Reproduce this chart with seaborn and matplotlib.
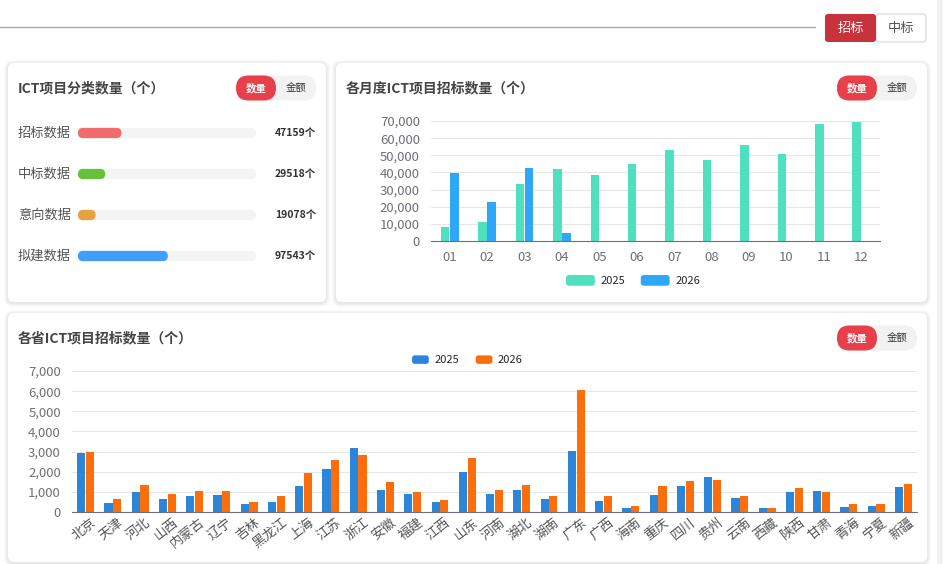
import numpy as np
import pandas as pd
import matplotlib
matplotlib.use("Agg")
import matplotlib.pyplot as plt
import matplotlib.ticker as mtick
import matplotlib.transforms as mtrans
from matplotlib.patches import FancyBboxPatch, Rectangle
from matplotlib.legend_handler import HandlerPatch
import seaborn as sns

W, H = 943, 564

# ---- data ----
cat_labels = ['招标数据', '中标数据', '意向数据', '拟建数据']
cat_values = [47159, 29518, 19078, 97543]
cat_colors = ['#f26b6b', '#67c23a', '#e6a23c', '#409eff']

months = ['01', '02', '03', '04', '05', '06', '07', '08', '09', '10', '11', '12']
month_2025 = [8400, 10900, 33200, 42000, 38500, 44700, 53300, 47200, 56000, 50900, 68200, 69600]
month_2026 = [39700, 22900, 42600, 4900, np.nan, np.nan, np.nan, np.nan, np.nan, np.nan, np.nan, np.nan]

provinces = ['北京', '天津', '河北', '山西', '内蒙古', '辽宁', '吉林', '黑龙江', '上海', '江苏',
             '浙江', '安徽', '福建', '江西', '山东', '河南', '湖北', '湖南', '广东', '广西',
             '海南', '重庆', '四川', '贵州', '云南', '西藏', '陕西', '甘肃', '青海', '宁夏', '新疆']
prov_2025 = [2910, 450, 980, 630, 815, 830, 380, 515, 1310, 2145,
             3175, 1115, 915, 500, 1980, 900, 1115, 650, 3010, 530,
             200, 865, 1280, 1750, 715, 200, 980, 1065, 265, 280, 1250]
prov_2026 = [2990, 665, 1350, 880, 1050, 1030, 480, 780, 1930, 2580,
             2810, 1500, 980, 600, 2660, 1080, 1330, 800, 6040, 815,
             300, 1300, 1560, 1600, 780, 180, 1180, 980, 380, 400, 1380]

sns.set_theme(style='white')
plt.rcParams['font.family'] = ['Noto Sans CJK SC', 'DejaVu Sans']

fig = plt.figure(figsize=(W / 100, H / 100), dpi=100)
fig.patch.set_facecolor('white')

# background axes in pixel coords (y downwards)
bg = fig.add_axes([0, 0, 1, 1])
bg.set_xlim(0, W)
bg.set_ylim(H, 0)
bg.axis('off')


def px_axes(x0, y0, x1, y1):
    ax = fig.add_axes([x0 / W, 1 - y1 / H, (x1 - x0) / W, (y1 - y0) / H])
    ax.patch.set_alpha(0)
    return ax


def rbox(x0, y0, x1, y1, r, **kw):
    p = FancyBboxPatch((x0, y0), x1 - x0, y1 - y0,
                       boxstyle=f"round,pad=0,rounding_size={r}", **kw)
    bg.add_patch(p)
    return p


def card(x0, y0, x1, y1):
    for i, a in enumerate([0.05, 0.05, 0.06, 0.07]):
        d = 4 - i
        rbox(x0 - d, y0 - d + 1, x1 + d, y1 + d + 1, 6 + d, fc='#9a9a9a', ec='none', alpha=a)
    rbox(x0, y0, x1, y1, 6, fc='white', ec='none')


def toggle(x0, yc):
    rbox(x0, yc - 12.5, x0 + 80, yc + 12.5, 12.5, fc='#f2f2f3', ec='none')
    rbox(x0, yc - 12.5, x0 + 40, yc + 12.5, 12.5, fc='#e8404a', ec='none')
    bg.text(x0 + 20, yc, '数量', ha='center', va='center', fontsize=7.5,
            color='white', fontweight='bold')
    bg.text(x0 + 60, yc, '金额', ha='center', va='center', fontsize=7.5, color='#333333')


def round_handle(legend, orig_handle, xdescent, ydescent, width, height, fontsize):
    return FancyBboxPatch((-xdescent, -ydescent), width, height,
                          boxstyle=f"round,pad=0,rounding_size={height * 0.3}")


# ---- page header ----
bg.plot([0, 815], [27, 27], color='#c9999d', lw=1)
rbox(876, 14, 926, 42, 3, fc='white', ec='#d6d6d6', lw=0.8)
rbox(825, 14, 876, 42, 3, fc='#c8323a', ec='none')
bg.text(850.5, 28, '招标', ha='center', va='center', fontsize=9.5, color='white')
bg.text(901, 28, '中标', ha='center', va='center', fontsize=9.5, color='#555555')
bg.add_patch(Rectangle((937, 0), 6, H, fc='#f1f1f1', ec='none'))

# ---- cards ----
card(8, 63, 326, 302)
card(336, 63, 927, 302)
card(8, 313, 927, 562)

title_kw = dict(ha='left', va='center', fontsize=10, fontweight='bold', color='#444444')
bg.text(18, 88, 'ICT项目分类数量（个）', **title_kw)
bg.text(346, 88, '各月度ICT项目招标数量（个）', **title_kw)
bg.text(18, 338, '各省ICT项目招标数量（个）', **title_kw)
toggle(236, 88)
toggle(837, 88)
toggle(837, 338)

# ---- category progress bars ----
total = sum(cat_values)
cat_df = pd.DataFrame({'label': cat_labels, 'value': cat_values, 'total': [total] * 4})
ax1 = px_axes(78, 112.5, 256, 276.5)
sns.barplot(data=cat_df, y='label', x='total', color='#f4f4f5', width=0.25, linewidth=0, ax=ax1)
sns.barplot(data=cat_df, y='label', x='value', hue='label', palette=cat_colors,
            width=0.25, legend=False, ax=ax1, saturation=1, linewidth=0)
ax1.set_xlim(0, total)
ax1.axis('off')
fig.canvas.draw()
to_px = ax1.transData + bg.transData.inverted()
for p in list(ax1.patches):
    x, y = p.get_xy()
    (ax_, ay_), (bx_, by_) = to_px.transform([(x, y), (x + p.get_width(), y + p.get_height())])
    lo, hi = min(ay_, by_), max(ay_, by_)
    r = min(5, (hi - lo) / 2, (bx_ - ax_) / 2)
    ax1.add_patch(FancyBboxPatch((ax_, lo), bx_ - ax_, hi - lo,
                                 boxstyle=f"round,pad=0,rounding_size={r}",
                                 fc=p.get_facecolor(), ec='none',
                                 transform=bg.transData, clip_on=False))
    p.set_visible(False)
row_tr = mtrans.blended_transform_factory(bg.transData, ax1.transData)
for i, (lab, val) in enumerate(zip(cat_labels, cat_values)):
    ax1.text(18, i, lab, transform=row_tr, ha='left', va='center', fontsize=9.5, color='#555555')
    ax1.text(316, i, f'{val}个', transform=row_tr, ha='right', va='center', fontsize=7.5,
             fontweight='bold', color='#333333')


def style_bar_axes(ax, n, ymax, step):
    ax.set_ylim(0, ymax)
    ax.set_xlim(-0.5, n - 0.5)
    ax.set_yticks(np.arange(0, ymax + 1, step))
    ax.yaxis.set_major_formatter(mtick.FuncFormatter(lambda v, _: f'{v:,.0f}'))
    ax.grid(axis='y', color='#e6e6e6', lw=0.8)
    ax.set_axisbelow(True)
    for s in ['left', 'right', 'top']:
        ax.spines[s].set_visible(False)
    ax.spines['bottom'].set_color('#6e7079')
    ax.spines['bottom'].set_linewidth(0.8)
    ax.set_xticks(np.arange(-0.5, n, 1), minor=True)
    ax.tick_params(axis='x', which='minor', length=4, color='#6e7079', width=0.8, direction='out')
    ax.tick_params(axis='x', which='major', length=0)
    ax.tick_params(axis='y', length=0, labelsize=9.5, labelcolor='#6e7079', pad=8)
    ax.set_xlabel('')
    ax.set_ylabel('')


# ---- monthly chart ----
mdf = pd.DataFrame({'month': months * 2,
                    'year': ['2025'] * 12 + ['2026'] * 12,
                    'value': month_2025 + month_2026})
ax2 = px_axes(431, 121, 880, 241)
sns.barplot(data=mdf, x='month', y='value', hue='year', order=months,
            palette={'2025': '#4fe0c0', '2026': '#2ea7f9'}, width=0.49, gap=0.08,
            saturation=1, linewidth=0, ax=ax2)
style_bar_axes(ax2, 12, 70000, 10000)
ax2.tick_params(axis='x', which='major', labelsize=9.5, labelcolor='#6e7079', pad=7)
h, l = ax2.get_legend_handles_labels()
ax2.legend(h, l, loc='center', bbox_to_anchor=(0.45, -0.33), ncol=2, frameon=False,
           fontsize=8, handlelength=2.6, handleheight=1.1, columnspacing=1.4,
           handletextpad=0.5, handler_map={Rectangle: HandlerPatch(patch_func=round_handle)})

# ---- province chart ----
pdf = pd.DataFrame({'prov': provinces * 2,
                    'year': ['2025'] * 31 + ['2026'] * 31,
                    'value': prov_2025 + prov_2026})
ax3 = px_axes(72, 371, 917, 512)
sns.barplot(data=pdf, x='prov', y='value', hue='year', order=provinces,
            palette={'2025': '#2b86d9', '2026': '#fb6e0b'}, width=0.64, gap=0.06,
            saturation=1, linewidth=0, ax=ax3)
style_bar_axes(ax3, 31, 7000, 1000)
ax3.tick_params(axis='x', which='major', labelsize=9.5, labelcolor='#555555', pad=3)
shift = mtrans.ScaledTranslation(5 / 100, 0, fig.dpi_scale_trans)
for t in ax3.get_xticklabels():
    t.set_rotation(38)
    t.set_ha('right')
    t.set_rotation_mode('anchor')
    t.set_transform(t.get_transform() + shift)
h, l = ax3.get_legend_handles_labels()
ax3.legend(h, l, loc='center', bbox_to_anchor=(0.468, 1.075), ncol=2, frameon=False,
           fontsize=8, handlelength=1.5, handleheight=0.8, columnspacing=1.5,
           handletextpad=0.5, handler_map={Rectangle: HandlerPatch(patch_func=round_handle)})

fig.savefig('out.png', dpi=100, facecolor='white')
